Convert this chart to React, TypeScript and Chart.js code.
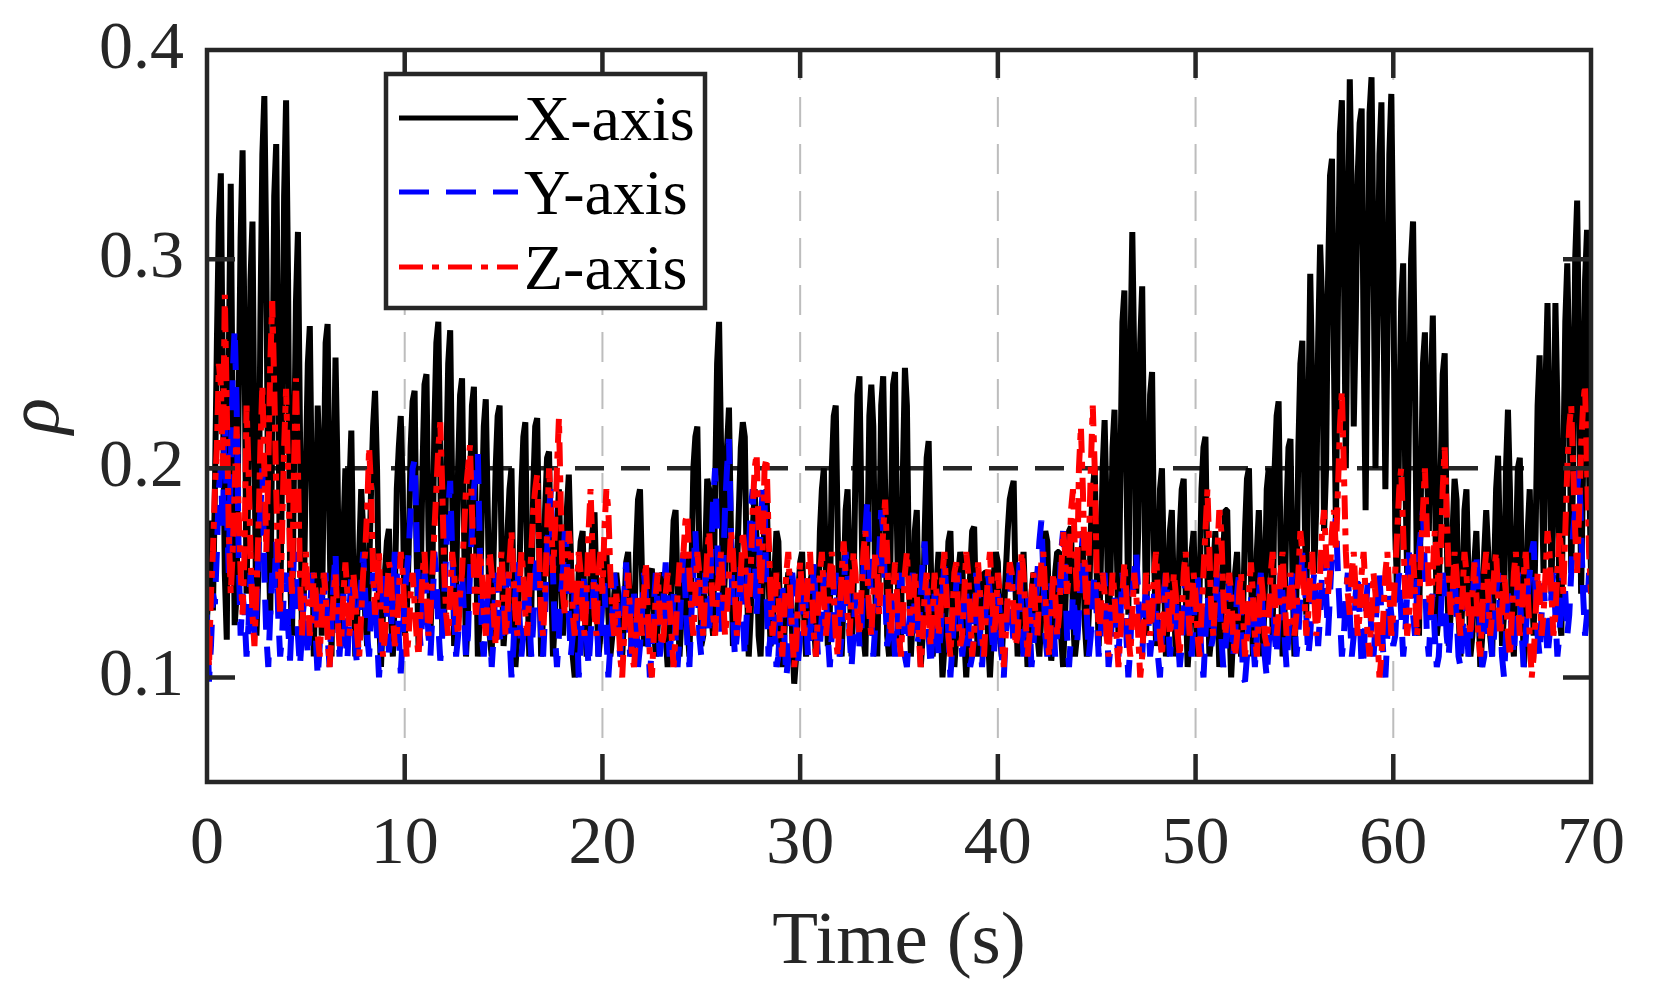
import React, { useEffect, useRef } from "react";
import { Chart, registerables } from "chart.js";

Chart.register(...registerables);

// ---------------- data ----------------
const TIME_STEP = 0.1; // seconds between samples, first sample at t = 0
const X_TICKS = [0, 10, 20, 30, 40, 50, 60, 70];
const Y_TICKS = [0.1, 0.2, 0.3, 0.4];
const Y_MIN = 0.05;
const Y_MAX = 0.4;
const THRESHOLD = 0.2;
const SERIES_NAMES = ["X-axis", "Y-axis", "Z-axis"];
const X_TITLE = "Time (s)";
const Y_TITLE = "\u03C1";

const X_AXIS_VALUES = [
  .128,.145,.175,.132,.19,.26,.318,.341,.24,.15,
  .118,.25,.336,.22,.125,.14,.23,.31,.352,.26,
  .14,.2,.29,.318,.21,.12,.15,.27,.35,.378,
  .3,.17,.13,.22,.33,.355,.25,.13,.2,.33,
  .376,.29,.15,.12,.2,.28,.313,.22,.12,.14,
  .2,.25,.268,.19,.11,.16,.23,.2,.12,.19,
  .26,.269,.17,.11,.19,.253,.2,.12,.13,.17,
  .2,.14,.19,.218,.15,.11,.13,.16,.19,.17,
  .13,.115,.15,.19,.22,.237,.2,.13,.105,.13,
  .15,.165,.171,.13,.11,.14,.19,.21,.225,.19,
  .12,.13,.16,.21,.232,.237,.16,.115,.14,.2,
  .24,.245,.17,.12,.15,.22,.26,.27,.2,.12,
  .13,.2,.25,.266,.19,.115,.14,.2,.235,.243,
  .17,.11,.13,.19,.23,.239,.17,.11,.13,.18,
  .22,.233,.18,.12,.11,.16,.2,.225,.23,.16,
  .115,.13,.17,.19,.2,.14,.105,.12,.15,.19,
  .215,.222,.15,.11,.13,.19,.22,.224,.16,.11,
  .13,.18,.205,.208,.15,.11,.13,.17,.19,.15,
  .12,.14,.18,.197,.16,.11,.1,.12,.15,.165,
  .17,.13,.11,.12,.15,.17,.179,.14,.11,.12,
  .14,.155,.16,.13,.11,.12,.14,.15,.14,.115,
  .11,.13,.155,.16,.13,.11,.12,.16,.185,.19,
  .15,.115,.12,.14,.15,.152,.125,.11,.125,.14,
  .15,.148,.12,.105,.12,.15,.175,.18,.14,.11,
  .13,.155,.159,.125,.11,.15,.2,.215,.22,.16,
  .115,.12,.16,.195,.19,.13,.12,.19,.25,.27,
  .21,.13,.15,.21,.229,.17,.115,.12,.15,.18,
  .21,.222,.215,.15,.11,.13,.17,.19,.165,.12,
  .11,.14,.18,.19,.15,.115,.12,.15,.17,.165,
  .12,.105,.12,.14,.15,.15,.12,.097,.11,.14,
  .155,.16,.13,.11,.125,.145,.15,.125,.11,.13,
  .17,.19,.2,.15,.115,.13,.2,.225,.23,.17,
  .12,.11,.14,.18,.19,.15,.11,.14,.2,.235,
  .244,.18,.12,.11,.16,.225,.24,.22,.14,.11,
  .16,.23,.244,.19,.12,.11,.18,.24,.246,.17,
  .115,.12,.2,.248,.23,.15,.11,.13,.17,.18,
  .13,.105,.12,.17,.205,.213,.16,.11,.12,.145,
  .16,.13,.1,.115,.14,.165,.17,.13,.105,.12,
  .15,.16,.155,.12,.1,.12,.15,.17,.172,.13,
  .11,.12,.14,.15,.15,.12,.1,.12,.15,.16,
  .155,.12,.11,.13,.15,.17,.185,.19,.194,.14,
  .11,.12,.15,.16,.13,.105,.115,.14,.15,.148,
  .12,.11,.13,.155,.17,.165,.125,.108,.12,.15,
  .16,.16,.12,.105,.13,.16,.17,.172,.13,.11,
  .12,.15,.16,.165,.125,.11,.13,.17,.19,.2,
  .15,.115,.15,.2,.223,.18,.12,.15,.21,.228,
  .17,.12,.2,.27,.285,.2,.13,.25,.313,.25,
  .14,.17,.26,.287,.2,.12,.18,.235,.246,.16,
  .115,.14,.19,.2,.15,.11,.13,.17,.18,.14,
  .11,.13,.17,.19,.195,.14,.105,.12,.16,.17,
  .13,.11,.14,.19,.21,.215,.15,.11,.12,.15,
  .17,.14,.105,.12,.16,.18,.18,.13,.1,.12,
  .15,.16,.13,.11,.13,.17,.195,.2,.15,.11,
  .12,.16,.18,.15,.11,.14,.19,.2,.16,.12,
  .2,.225,.232,.16,.11,.13,.18,.21,.214,.15,
  .11,.14,.21,.25,.261,.19,.13,.22,.293,.24,
  .15,.18,.26,.307,.28,.17,.2,.29,.34,.348,
  .25,.17,.28,.36,.376,.3,.2,.3,.386,.33,
  .22,.27,.34,.365,.372,.26,.18,.28,.37,.387,
  .3,.2,.27,.35,.375,.28,.19,.26,.35,.379,
  .3,.17,.14,.22,.28,.298,.2,.15,.23,.3,
  .318,.24,.14,.12,.19,.25,.265,.2,.17,.24,
  .273,.2,.12,.13,.2,.245,.255,.17,.115,.13,
  .17,.195,.185,.13,.11,.14,.18,.19,.15,.11,
  .12,.155,.17,.14,.105,.12,.16,.18,.16,.12,
  .11,.15,.19,.206,.16,.115,.13,.2,.228,.19,
  .12,.11,.16,.2,.205,.15,.105,.12,.17,.19,
  .15,.12,.17,.23,.254,.2,.15,.24,.279,.22,
  .14,.2,.279,.23,.13,.12,.2,.27,.298,.25,
  .15,.2,.3,.328,.25,.14,.2,.29,.314,.2,
  .15,
];

const Y_AXIS_VALUES = [
  .13,.098,.115,.14,.135,.16,.19,.2,.17,.225,
  .18,.15,.2,.245,.267,.23,.16,.12,.14,.13,
  .11,.125,.15,.14,.12,.13,.16,.18,.2,.15,
  .12,.105,.13,.15,.14,.165,.13,.11,.12,.145,
  .15,.125,.108,.13,.16,.15,.12,.105,.12,.14,
  .13,.11,.125,.15,.145,.12,.1,.115,.14,.135,
  .15,.12,.105,.13,.145,.16,.13,.11,.125,.14,
  .12,.108,.13,.15,.14,.115,.105,.13,.145,.16,
  .14,.12,.11,.13,.15,.145,.12,.1,.115,.14,
  .15,.13,.112,.12,.14,.16,.15,.12,.102,.12,
  .14,.15,.16,.18,.2,.204,.17,.13,.115,.13,
  .15,.14,.12,.11,.13,.16,.15,.125,.108,.12,
  .14,.16,.18,.194,.16,.13,.11,.12,.145,.15,
  .13,.11,.12,.15,.17,.19,.2,.207,.16,.12,
  .11,.13,.14,.125,.105,.12,.15,.14,.12,.115,
  .13,.145,.15,.12,.1,.115,.14,.155,.13,.11,
  .12,.14,.15,.13,.11,.125,.15,.16,.14,.12,
  .11,.13,.16,.18,.19,.15,.12,.105,.12,.14,
  .15,.17,.16,.13,.11,.12,.145,.13,.1,.115,
  .14,.15,.12,.105,.12,.135,.15,.13,.11,.12,
  .14,.145,.12,.1,.115,.13,.15,.14,.12,.11,
  .125,.14,.155,.13,.11,.12,.14,.13,.105,.115,
  .13,.15,.14,.12,.1,.115,.135,.15,.13,.11,
  .12,.14,.155,.13,.11,.125,.14,.12,.105,.12,
  .145,.16,.14,.115,.105,.13,.15,.17,.15,.12,
  .11,.13,.15,.14,.12,.16,.185,.2,.17,.13,
  .12,.15,.18,.2,.214,.17,.13,.11,.12,.14,
  .155,.13,.11,.13,.16,.18,.19,.16,.13,.15,
  .17,.19,.185,.14,.11,.12,.14,.13,.105,.11,
  .13,.145,.12,.1,.11,.13,.15,.14,.12,.108,
  .12,.14,.15,.13,.11,.12,.14,.155,.13,.11,
  .115,.13,.15,.14,.12,.105,.12,.14,.15,.13,
  .11,.12,.14,.16,.15,.12,.105,.12,.14,.135,
  .115,.12,.15,.17,.185,.16,.13,.11,.125,.14,
  .16,.18,.17,.14,.115,.12,.14,.13,.11,.12,
  .14,.15,.13,.11,.105,.12,.14,.15,.13,.115,
  .12,.14,.155,.165,.14,.12,.105,.12,.14,.13,
  .11,.12,.14,.155,.14,.12,.1,.115,.13,.145,
  .15,.13,.11,.12,.14,.13,.105,.11,.13,.15,
  .14,.12,.105,.12,.135,.15,.14,.12,.11,.13,
  .14,.13,.11,.1,.12,.14,.15,.13,.115,.12,
  .14,.155,.13,.11,.12,.14,.13,.105,.115,.135,
  .15,.165,.175,.15,.12,.11,.13,.145,.13,.11,
  .12,.14,.16,.17,.15,.12,.105,.12,.14,.13,
  .115,.13,.15,.17,.16,.13,.11,.12,.14,.15,
  .13,.11,.12,.14,.15,.13,.105,.115,.135,.14,
  .12,.11,.13,.15,.14,.12,.1,.115,.14,.15,
  .16,.14,.12,.11,.13,.145,.13,.11,.12,.14,
  .13,.11,.1,.12,.14,.15,.13,.11,.12,.135,
  .14,.12,.105,.115,.13,.15,.14,.12,.11,.125,
  .14,.15,.13,.11,.1,.12,.14,.13,.115,.12,
  .135,.15,.14,.12,.105,.11,.13,.145,.13,.11,
  .12,.14,.15,.13,.1,.098,.11,.13,.14,.12,
  .105,.12,.14,.15,.13,.11,.1,.115,.135,.14,
  .12,.11,.13,.15,.14,.12,.105,.12,.14,.15,
  .13,.11,.12,.14,.16,.15,.13,.11,.12,.14,
  .15,.13,.115,.13,.15,.16,.14,.12,.14,.16,
  .17,.176,.15,.13,.11,.12,.14,.15,.13,.11,
  .12,.14,.15,.13,.105,.11,.13,.145,.14,.12,
  .11,.125,.14,.15,.13,.11,.1,.12,.14,.13,
  .115,.12,.14,.15,.13,.11,.12,.14,.16,.15,
  .13,.12,.14,.16,.17,.18,.15,.12,.11,.13,
  .14,.12,.105,.11,.13,.15,.14,.12,.11,.125,
  .14,.15,.13,.11,.105,.12,.14,.13,.11,.12,
  .135,.15,.16,.14,.12,.105,.11,.13,.145,.13,
  .11,.12,.14,.15,.13,.11,.1,.12,.14,.135,
  .12,.11,.13,.15,.14,.12,.105,.12,.14,.15,
  .16,.165,.14,.12,.11,.13,.145,.13,.11,.12,
  .14,.15,.13,.11,.12,.14,.155,.14,.12,.13,
  .15,.17,.18,.19,.2,.17,.14,.12,.13,.15,
  .14,
];

const Z_AXIS_VALUES = [
  .125,.105,.14,.16,.19,.21,.25,.24,.2,.283,
  .23,.17,.14,.16,.19,.22,.18,.15,.13,.16,
  .23,.2,.16,.13,.115,.14,.17,.21,.24,.2,
  .16,.2,.25,.28,.24,.19,.15,.13,.17,.21,
  .238,.2,.16,.14,.2,.243,.2,.15,.12,.14,
  .16,.14,.12,.13,.15,.14,.12,.11,.13,.15,
  .14,.12,.105,.12,.14,.15,.13,.115,.12,.14,
  .155,.14,.12,.13,.15,.14,.12,.11,.13,.15,
  .16,.18,.21,.19,.15,.13,.14,.16,.13,.11,
  .12,.14,.155,.15,.13,.115,.12,.14,.16,.15,
  .13,.11,.12,.14,.15,.135,.12,.11,.13,.15,
  .16,.14,.12,.13,.15,.17,.19,.21,.222,.19,
  .15,.13,.12,.14,.16,.15,.13,.12,.14,.15,
  .17,.19,.2,.211,.18,.15,.13,.14,.16,.15,
  .13,.12,.14,.16,.15,.13,.115,.13,.15,.16,
  .14,.12,.13,.155,.17,.15,.13,.12,.14,.16,
  .15,.13,.12,.14,.16,.18,.19,.197,.16,.13,
  .12,.14,.17,.2,.18,.15,.17,.2,.224,.18,
  .14,.13,.15,.17,.16,.13,.12,.14,.16,.15,
  .13,.12,.14,.17,.19,.16,.13,.12,.15,.16,
  .14,.17,.19,.18,.15,.13,.12,.14,.13,.11,
  .1,.12,.14,.15,.13,.11,.105,.12,.14,.13,
  .12,.14,.155,.13,.11,.1,.12,.14,.15,.13,
  .115,.12,.14,.15,.135,.12,.105,.12,.14,.155,
  .15,.16,.175,.178,.15,.13,.12,.14,.16,.15,
  .13,.12,.14,.16,.17,.15,.13,.12,.14,.15,
  .16,.14,.12,.13,.15,.17,.16,.14,.12,.13,
  .15,.17,.16,.14,.13,.15,.18,.2,.207,.17,
  .14,.16,.2,.205,.17,.14,.12,.13,.15,.14,
  .12,.11,.13,.15,.16,.14,.12,.105,.115,.14,
  .155,.14,.12,.13,.15,.16,.14,.12,.11,.13,
  .15,.16,.14,.12,.13,.15,.16,.14,.12,.11,
  .13,.15,.165,.15,.13,.12,.14,.16,.15,.13,
  .12,.14,.16,.17,.15,.13,.12,.14,.16,.15,
  .13,.15,.17,.185,.16,.13,.12,.14,.155,.14,
  .12,.11,.13,.15,.16,.14,.12,.13,.15,.14,
  .12,.105,.12,.14,.15,.13,.115,.13,.15,.14,
  .12,.13,.15,.16,.14,.12,.11,.13,.15,.155,
  .13,.115,.12,.14,.16,.15,.13,.11,.12,.14,
  .155,.14,.12,.11,.13,.15,.16,.14,.12,.13,
  .15,.14,.12,.105,.12,.14,.155,.15,.13,.115,
  .12,.14,.16,.15,.13,.11,.12,.14,.15,.13,
  .12,.14,.155,.16,.14,.12,.11,.13,.15,.14,
  .12,.13,.15,.17,.16,.14,.15,.18,.19,.16,
  .14,.2,.22,.19,.15,.13,.16,.2,.23,.2,
  .15,.12,.13,.15,.14,.12,.11,.13,.15,.14,
  .12,.105,.12,.14,.155,.14,.12,.11,.13,.15,
  .14,.12,.1,.11,.13,.15,.14,.12,.13,.15,
  .16,.14,.12,.11,.13,.15,.14,.12,.13,.15,
  .14,.12,.11,.13,.15,.16,.14,.12,.13,.15,
  .14,.12,.11,.13,.15,.17,.19,.16,.13,.12,
  .14,.16,.18,.17,.14,.12,.13,.15,.14,.12,
  .11,.12,.14,.15,.13,.11,.12,.14,.155,.14,
  .12,.11,.13,.15,.14,.12,.115,.13,.15,.16,
  .14,.12,.13,.15,.16,.14,.12,.13,.15,.14,
  .12,.13,.15,.17,.16,.14,.12,.13,.15,.16,
  .14,.12,.13,.15,.17,.18,.16,.14,.15,.17,
  .18,.16,.19,.22,.237,.2,.16,.14,.13,.15,
  .16,.14,.12,.13,.15,.16,.14,.12,.11,.13,
  .15,.14,.12,.1,.11,.13,.15,.16,.14,.12,
  .13,.15,.17,.19,.2,.17,.14,.12,.13,.15,
  .16,.14,.12,.13,.16,.18,.2,.17,.14,.13,
  .15,.17,.16,.14,.16,.19,.21,.18,.15,.13,
  .14,.16,.15,.13,.12,.14,.16,.15,.13,.12,
  .14,.155,.14,.12,.11,.13,.15,.16,.14,.12,
  .13,.15,.16,.14,.12,.13,.15,.14,.12,.11,
  .13,.15,.16,.14,.12,.13,.15,.16,.14,.12,
  .1,.11,.13,.15,.14,.12,.13,.15,.17,.16,
  .14,.12,.13,.15,.17,.16,.14,.17,.2,.22,
  .23,.2,.17,.15,.18,.21,.23,.24,.2,.16,
  .14,
];

// ---------------- styles ----------------
const AXIS_COLOR = "#262626";
const SERIES_COLORS = ["#000000", "#0000ff", "#ff0000"];
const SERIES_DASHES: number[][] = [[], [30, 17], [24, 9, 7, 9]];
const SERIES_WIDTHS = [6, 6, 6];
const SERIES_VALUES = [X_AXIS_VALUES, Y_AXIS_VALUES, Z_AXIS_VALUES];
const FONT_FAMILY = "'Liberation Serif', 'Times New Roman', Times, serif";

const toPoints = (values: number[]) =>
  values.map((v, i) => ({ x: Math.round(i * TIME_STEP * 10) / 10, y: v }));

const framePlugin = {
  id: "matlabFrame",
  beforeDatasetsDraw(chart: any) {
    const { ctx, chartArea } = chart;
    const xs = chart.scales.x;
    const ys = chart.scales.y;
    ctx.save();
    // vertical grid
    ctx.strokeStyle = "rgba(38,38,38,0.3)";
    ctx.lineWidth = 2;
    ctx.setLineDash([30, 17]);
    X_TICKS.slice(1, -1).forEach((t) => {
      const px = xs.getPixelForValue(t);
      ctx.beginPath();
      ctx.moveTo(px, chartArea.top);
      ctx.lineTo(px, chartArea.bottom);
      ctx.stroke();
    });
    // threshold line
    const py = ys.getPixelForValue(THRESHOLD);
    ctx.strokeStyle = AXIS_COLOR;
    ctx.lineWidth = 4.5;
    ctx.setLineDash([29, 17]);
    ctx.beginPath();
    ctx.moveTo(chartArea.left, py);
    ctx.lineTo(chartArea.right, py);
    ctx.stroke();
    ctx.restore();
  },
  afterDatasetsDraw(chart: any) {
    const { ctx, chartArea } = chart;
    const { left, right, top, bottom } = chartArea;
    const xs = chart.scales.x;
    const ys = chart.scales.y;
    const TL = 28;
    ctx.save();
    ctx.strokeStyle = AXIS_COLOR;
    ctx.lineWidth = 4.5;
    ctx.setLineDash([]);
    // inward ticks
    ctx.beginPath();
    X_TICKS.slice(1, -1).forEach((t) => {
      const px = xs.getPixelForValue(t);
      ctx.moveTo(px, bottom);
      ctx.lineTo(px, bottom - TL);
      ctx.moveTo(px, top);
      ctx.lineTo(px, top + TL);
    });
    Y_TICKS.filter((v) => v < Y_MAX).forEach((v) => {
      const py = ys.getPixelForValue(v);
      ctx.moveTo(left, py);
      ctx.lineTo(left + TL, py);
      ctx.moveTo(right, py);
      ctx.lineTo(right - TL, py);
    });
    ctx.stroke();
    // frame
    ctx.lineJoin = "miter";
    ctx.strokeRect(left, top, right - left, bottom - top);

    // legend
    const lg = { l: 386, t: 74, r: 705, b: 308 };
    ctx.fillStyle = "#ffffff";
    ctx.fillRect(lg.l, lg.t, lg.r - lg.l, lg.b - lg.t);
    ctx.strokeStyle = AXIS_COLOR;
    ctx.lineWidth = 4.5;
    ctx.strokeRect(lg.l, lg.t, lg.r - lg.l, lg.b - lg.t);
    const baselines = [140, 214, 289];
    ctx.font = `64px ${FONT_FAMILY}`;
    ctx.textAlign = "left";
    ctx.textBaseline = "alphabetic";
    SERIES_NAMES.forEach((name, i) => {
      const yb = baselines[i];
      const yl = yb - 22;
      ctx.strokeStyle = SERIES_COLORS[i];
      ctx.lineWidth = 5;
      ctx.setLineDash(SERIES_DASHES[i]);
      ctx.beginPath();
      ctx.moveTo(399, yl);
      ctx.lineTo(518, yl);
      ctx.stroke();
      ctx.setLineDash([]);
      ctx.fillStyle = "#000000";
      ctx.fillText(name, 524, yb);
    });

    // axis titles
    ctx.fillStyle = AXIS_COLOR;
    ctx.font = `75px ${FONT_FAMILY}`;
    ctx.textAlign = "center";
    ctx.fillText(X_TITLE, (left + right) / 2, 963);
    ctx.save();
    ctx.translate(58, (top + bottom) / 2);
    ctx.rotate(-Math.PI / 2);
    ctx.font = `italic 75px ${FONT_FAMILY}`;
    ctx.fillText(Y_TITLE, 0, 0);
    ctx.restore();
    ctx.restore();
  },
};

export default function App() {
  const canvasRef = useRef<HTMLCanvasElement | null>(null);

  useEffect(() => {
    if (!canvasRef.current) return;
    const datasets = SERIES_NAMES.map((name, i) => ({
      label: name,
      data: toPoints(SERIES_VALUES[i]),
      borderColor: SERIES_COLORS[i],
      backgroundColor: SERIES_COLORS[i],
      borderWidth: SERIES_WIDTHS[i],
      borderDash: SERIES_DASHES[i],
      borderJoinStyle: "bevel" as const,
      pointRadius: 0,
      tension: 0,
      fill: false,
      order: 3 - i,
    }));
    const chart = new Chart(canvasRef.current, {
      type: "line",
      data: { datasets },
      options: {
        animation: false,
        responsive: false,
        devicePixelRatio: 1,
        layout: { padding: { left: 0, top: 50, right: 63, bottom: 0 } },
        plugins: {
          legend: { display: false },
          tooltip: { enabled: false },
          title: { display: false },
        },
        scales: {
          x: {
            type: "linear",
            min: 0,
            max: 70,
            afterBuildTicks: (s: any) => {
              s.ticks = X_TICKS.map((v) => ({ value: v }));
            },
            afterFit: (s: any) => {
              s.height = 1004 - 782;
            },
            ticks: {
              autoSkip: false,
              maxRotation: 0,
              padding: 22,
              color: AXIS_COLOR,
              font: { family: FONT_FAMILY, size: 68 },
              callback: (v: any) => String(v),
            },
            grid: { display: false, drawTicks: false },
            border: { display: false },
          },
          y: {
            type: "linear",
            min: Y_MIN,
            max: Y_MAX,
            afterBuildTicks: (s: any) => {
              s.ticks = Y_TICKS.map((v) => ({ value: v }));
            },
            afterFit: (s: any) => {
              s.width = 207;
            },
            ticks: {
              autoSkip: false,
              padding: 23,
              color: AXIS_COLOR,
              font: { family: FONT_FAMILY, size: 68, lineHeight: 0.7 },
              callback: (v: any) => Number(v).toFixed(1),
            },
            grid: { display: false, drawTicks: false },
            border: { display: false },
          },
        },
      },
      plugins: [framePlugin],
    });
    return () => chart.destroy();
  }, []);

  return (
    <div
      style={{
        position: "fixed",
        left: 0,
        top: 0,
        width: 1654,
        height: 1004,
        background: "#ffffff",
      }}
    >
      <canvas
        ref={canvasRef}
        width={1654}
        height={1004}
        style={{ width: 1654, height: 1004, display: "block" }}
      />
    </div>
  );
}
